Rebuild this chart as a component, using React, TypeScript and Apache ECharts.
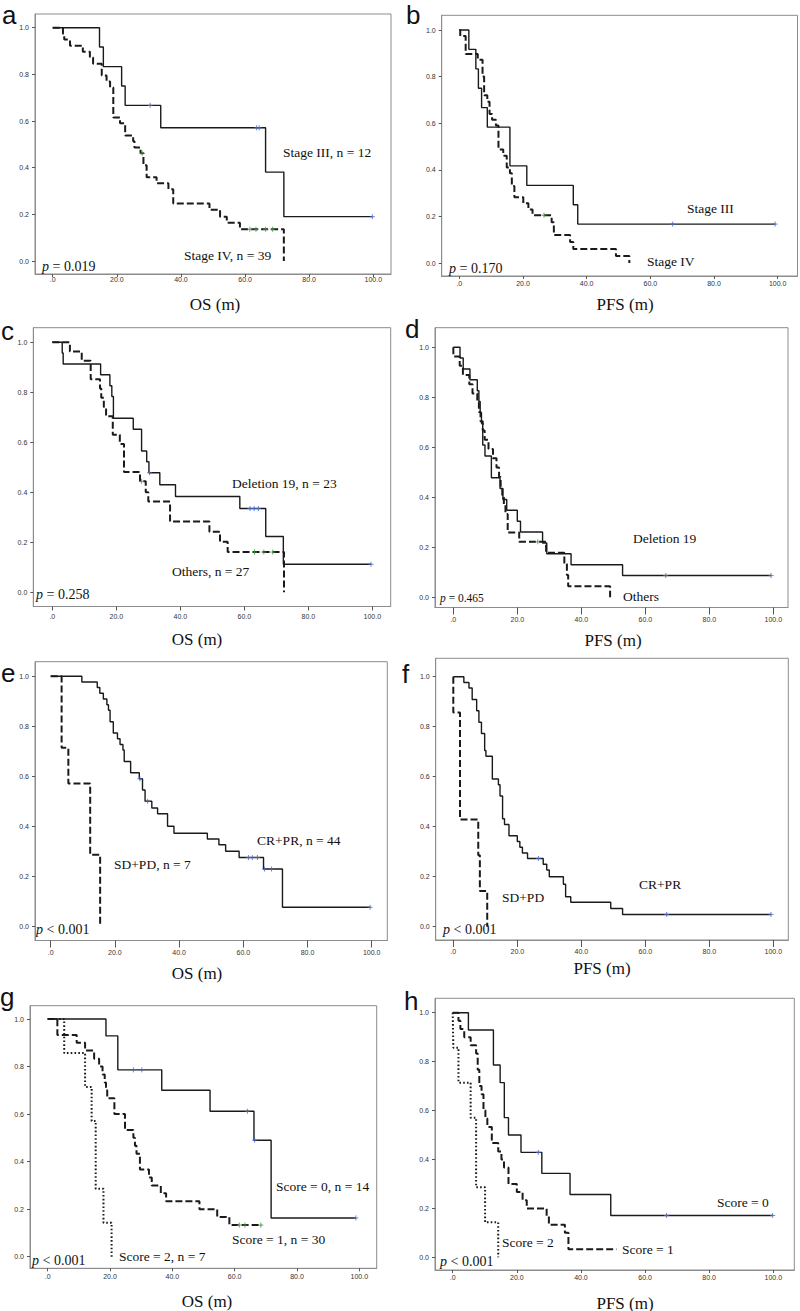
import React, { useEffect, useRef } from "react";
import * as echarts from "echarts";

// ---------- DATA (time in months, survival probability) ----------
// Panel a: OS by stage
const aTimeStageIII = [0, 14.6, 15.8, 21.5, 22.6, 33.7, 66.4, 72.1, 99.7];
const aSurvStageIII = [1, 0.917, 0.833, 0.75, 0.667, 0.571, 0.381, 0.19, 0.19];
const aCensStageIII = [30.4, 63.6, 64.4, 99.7];
const aTimeStageIV = [0, 3.2, 3.6, 5.4, 9.4, 11.6, 12.6, 15.3, 16.8, 17.9, 18.9, 21.0, 22.6, 25.1, 25.5, 27.4, 28.3, 29.3, 32.4, 36.1, 37.6, 48.9, 52.2, 54.3, 58.4, 72.1];
const aSurvStageIV = [1, 0.974, 0.949, 0.923, 0.897, 0.872, 0.846, 0.795, 0.769, 0.744, 0.615, 0.59, 0.538, 0.513, 0.487, 0.462, 0.41, 0.359, 0.333, 0.308, 0.246, 0.22, 0.19, 0.164, 0.136, 0];
const aCensStageIV = [27.9, 61.5, 63.4, 66.4, 68.6];

// Panel b: PFS by stage
const bTimeStageIII = [0, 3.0, 5.2, 6.0, 7.0, 8.8, 15.9, 21.2, 35.8, 37.2, 99.2];
const bSurvStageIII = [1, 0.917, 0.833, 0.75, 0.667, 0.583, 0.417, 0.333, 0.25, 0.167, 0.167];
const bCensStageIII = [67.0, 99.2];
const bTimeStageIV = [0, 0.3, 2.0, 5.8, 7.3, 7.8, 8.8, 9.5, 10.3, 11.5, 12.3, 13.8, 14.9, 15.9, 16.5, 17.3, 20.1, 21.7, 23.0, 29.0, 29.7, 34.8, 35.8, 49.2, 53.4];
const bSurvStageIV = [1, 0.974, 0.897, 0.872, 0.8, 0.72, 0.692, 0.64, 0.615, 0.59, 0.487, 0.46, 0.41, 0.385, 0.33, 0.282, 0.256, 0.23, 0.205, 0.175, 0.12, 0.09, 0.06, 0.03, 0];
const bCensStageIV = [26.6];

// Panel c: OS by EGFR mutation
const cTimeDel19 = [0, 3.1, 3.4, 15.1, 18.0, 18.6, 19.1, 25.3, 27.9, 29.5, 30.2, 33.6, 38.5, 58.6, 66.7, 72.2, 99.6];
const cSurvDel19 = [1, 0.957, 0.913, 0.87, 0.826, 0.783, 0.696, 0.652, 0.565, 0.522, 0.478, 0.43, 0.383, 0.335, 0.223, 0.112, 0.112];
const cCensDel19 = [30.4, 61.8, 63.1, 64.4, 99.6];
const cTimeOthers = [0, 5.5, 9.2, 12.0, 14.9, 15.3, 16.1, 16.8, 18.9, 21.1, 22.4, 27.4, 29.2, 30.0, 36.8, 49.1, 52.4, 54.8, 72.4];
const cSurvOthers = [1, 0.963, 0.926, 0.852, 0.815, 0.778, 0.741, 0.704, 0.63, 0.593, 0.481, 0.444, 0.4, 0.363, 0.283, 0.242, 0.202, 0.161, 0];
const cCensOthers = [27.9, 63.2, 66.1, 68.9];

// Panel d: PFS by EGFR mutation
const dTimeDel19 = [0, 2.1, 3.1, 5.2, 7.5, 8.0, 8.4, 8.8, 9.2, 9.9, 11.9, 14.6, 15.5, 16.7, 20.0, 21.0, 27.9, 29.2, 36.8, 52.9, 99.3];
const dSurvDel19 = [1, 0.957, 0.913, 0.87, 0.826, 0.783, 0.739, 0.696, 0.609, 0.565, 0.478, 0.435, 0.391, 0.348, 0.304, 0.261, 0.217, 0.174, 0.13, 0.087, 0.087];
const dCensDel19 = [66.4, 99.3];
const dTimeOthers = [0, 0.05, 2.0, 3.0, 5.0, 6.0, 7.5, 8.0, 8.5, 9.2, 9.8, 11.0, 12.4, 13.5, 14.3, 14.8, 15.3, 15.8, 16.3, 17.0, 20.6, 29.0, 34.7, 35.5, 35.9, 49.0];
const dSurvOthers = [1, 0.963, 0.926, 0.889, 0.852, 0.815, 0.778, 0.741, 0.704, 0.667, 0.63, 0.593, 0.556, 0.519, 0.481, 0.444, 0.407, 0.37, 0.333, 0.259, 0.222, 0.178, 0.133, 0.089, 0.044, 0];
const dCensOthers = [26.4];

// Panel e: OS by response
const eTimeCRPR = [0, 9.7, 14.5, 15.3, 16.4, 17.5, 18.0, 18.5, 19.5, 20.8, 21.6, 22.5, 22.9, 24.9, 27.6, 28.6, 29.4, 31.5, 33.3, 36.4, 38.4, 48.8, 52.4, 54.5, 58.7, 66.3, 72.2, 99.5];
const eSurvCRPR = [1, 0.977, 0.955, 0.932, 0.909, 0.886, 0.864, 0.818, 0.773, 0.75, 0.727, 0.705, 0.659, 0.614, 0.59, 0.545, 0.5, 0.473, 0.45, 0.4, 0.372, 0.349, 0.326, 0.3, 0.275, 0.229, 0.076, 0.076];
const eCensCRPR = [27.8, 30.2, 61.6, 62.8, 64.4, 66.6, 68.8, 99.5];
const eTimeSDPD = [0, 3.4, 5.5, 12.3, 15.4];
const eSurvSDPD = [1, 0.714, 0.571, 0.286, 0];

// Panel f: PFS by response
const fTimeCRPR = [0, 3.3, 4.9, 5.9, 7.3, 8.0, 8.8, 9.8, 10.2, 12.2, 14.1, 14.6, 15.4, 16.0, 17.4, 20.0, 20.8, 21.6, 23.2, 28.1, 29.2, 30.0, 34.4, 35.1, 36.7, 49.2, 52.9, 99.3];
const fSurvCRPR = [1, 0.977, 0.955, 0.909, 0.864, 0.818, 0.773, 0.705, 0.682, 0.591, 0.568, 0.523, 0.432, 0.409, 0.364, 0.341, 0.318, 0.295, 0.273, 0.25, 0.227, 0.2, 0.17, 0.12, 0.098, 0.073, 0.049, 0.049];
const fCensCRPR = [26.6, 66.7, 99.3];
const fTimeSDPD = [0, 0, 2.1, 7.8, 8.3, 10.6];
const fSurvSDPD = [1, 0.857, 0.429, 0.286, 0.143, 0];

// Panel g: OS by score
const gTimeScore0 = [0, 18.7, 22.5, 36.6, 52.1, 66.2, 71.7, 98.9];
const gSurvScore0 = [1, 0.929, 0.786, 0.7, 0.612, 0.49, 0.163, 0.163];
const gCensScore0 = [27.5, 30.2, 64.1, 66.4, 98.9];
const gTimeScore1 = [0, 3.1, 9.3, 12.0, 14.9, 16.5, 17.6, 18.3, 18.7, 19.1, 21.4, 24.8, 27.5, 28.0, 28.5, 29.6, 32.5, 33.4, 36.3, 38.0, 48.7, 54.4, 58.3, 68.7];
const gSurvScore1 = [1, 0.933, 0.9, 0.867, 0.833, 0.8, 0.767, 0.733, 0.7, 0.667, 0.6, 0.533, 0.5, 0.467, 0.433, 0.367, 0.333, 0.3, 0.267, 0.233, 0.2, 0.167, 0.133, 0.133];
const gCensScore1 = [61.5, 63.3, 68.4];
const gTimeScore2 = [0, 5.3, 12.0, 14.1, 15.4, 17.9, 20.5];
const gSurvScore2 = [1, 0.857, 0.714, 0.571, 0.286, 0.143, 0];

// Panel h: PFS by score
const hTimeScore0 = [0, 4.9, 12.7, 14.8, 16.1, 17.4, 21.3, 27.8, 36.6, 49.3, 99.8];
const hSurvScore0 = [1, 0.929, 0.786, 0.714, 0.571, 0.5, 0.429, 0.343, 0.257, 0.171, 0.171];
const hCensScore0 = [26.7, 66.7, 99.8];
const hTimeScore1 = [0, 1.8, 2.4, 3.6, 5.6, 7.3, 7.8, 8.3, 9.0, 9.6, 10.2, 10.8, 12.2, 14.2, 15.2, 16.0, 17.4, 20.0, 21.8, 23.1, 29.3, 30.0, 35.0, 36.1, 51.1];
const hSurvScore1 = [1, 0.967, 0.933, 0.9, 0.867, 0.833, 0.767, 0.7, 0.667, 0.6, 0.567, 0.533, 0.467, 0.433, 0.4, 0.367, 0.3, 0.267, 0.233, 0.2, 0.167, 0.133, 0.1, 0.033, 0.033];
const hTimeScore2 = [0, 0.2, 1.8, 5.6, 7.3, 10.1, 14.2];
const hSurvScore2 = [1, 0.857, 0.714, 0.571, 0.286, 0.143, 0];

// Tick labels
const xTicks = [0, 20, 40, 60, 80, 100];
const yTicks = [0, 0.2, 0.4, 0.6, 0.8, 1.0];

// ---------- LAYOUT ----------
const SERIF = '"Liberation Serif", "Times New Roman", serif';
const SANS = '"Liberation Sans", Arial, sans-serif';
const LETTER = '"Liberation Sans", Arial, sans-serif';

type Curve = { t: number[]; s: number[]; c?: number[]; kind: "solid" | "dashed" | "dotted" };
type Panel = {
  letter: string;
  letterPos: [number, number];
  box: [number, number, number, number]; // L T R B
  px: [number, number, number, number]; // x(0), x(100), y(1), y(0)
  xTitle: string;
  xTitlePos: [number, number];
  xTickLen: number;
  xLabelMargin: number;
  curves: Curve[];
  labels: { text: string; x: number; y: number }[];
  p: { text: string; x: number; y: number; size: number };
};

const panels: Panel[] = [
  {
    letter: "a", letterPos: [2, 15], box: [35, 14, 391, 274], px: [52.7, 373.3, 27.7, 261],
    xTitle: "OS (m)", xTitlePos: [215, 304], xTickLen: 3, xLabelMargin: 2,
    curves: [
      { t: aTimeStageIII, s: aSurvStageIII, c: aCensStageIII, kind: "solid" },
      { t: aTimeStageIV, s: aSurvStageIV, c: aCensStageIV, kind: "dashed" },
    ],
    labels: [
      { text: "Stage III, n = 12", x: 283, y: 152 },
      { text: "Stage IV, n = 39", x: 184, y: 255 },
    ],
    p: { text: "= 0.019", x: 42, y: 266, size: 14 },
  },
  {
    letter: "b", letterPos: [406, 15], box: [441.7, 15.3, 797.5, 276], px: [459.3, 777.7, 30, 263],
    xTitle: "PFS (m)", xTitlePos: [625, 304], xTickLen: 3, xLabelMargin: 4,
    curves: [
      { t: bTimeStageIII, s: bSurvStageIII, c: bCensStageIII, kind: "solid" },
      { t: bTimeStageIV, s: bSurvStageIV, c: bCensStageIV, kind: "dashed" },
    ],
    labels: [
      { text: "Stage III", x: 687, y: 208 },
      { text: "Stage IV", x: 647, y: 261 },
    ],
    p: { text: "= 0.170", x: 449, y: 268, size: 14 },
  },
  {
    letter: "c", letterPos: [1, 331], box: [33.3, 327.7, 390.7, 606.5], px: [52.3, 372.3, 342.3, 592.3],
    xTitle: "OS (m)", xTitlePos: [197, 639], xTickLen: 4, xLabelMargin: 6,
    curves: [
      { t: cTimeDel19, s: cSurvDel19, c: cCensDel19, kind: "solid" },
      { t: cTimeOthers, s: cSurvOthers, c: cCensOthers, kind: "dashed" },
    ],
    labels: [
      { text: "Deletion 19, n = 23", x: 232, y: 483 },
      { text: "Others, n = 27", x: 172, y: 571 },
    ],
    p: { text: "= 0.258", x: 36, y: 594, size: 14 },
  },
  {
    letter: "d", letterPos: [405, 329], box: [435, 327.7, 788, 607.5], px: [453.3, 773.3, 347.3, 597.3],
    xTitle: "PFS (m)", xTitlePos: [613, 640], xTickLen: 7, xLabelMargin: 8,
    curves: [
      { t: dTimeDel19, s: dSurvDel19, c: dCensDel19, kind: "solid" },
      { t: dTimeOthers, s: dSurvOthers, c: dCensOthers, kind: "dashed" },
    ],
    labels: [
      { text: "Deletion 19", x: 633, y: 538 },
      { text: "Others", x: 623, y: 596 },
    ],
    p: { text: "= 0.465", x: 440, y: 598, size: 11.5 },
  },
  {
    letter: "e", letterPos: [1, 673], box: [35, 661.7, 387.3, 940.5], px: [50.7, 371.7, 676.3, 926.3],
    xTitle: "OS (m)", xTitlePos: [197, 973], xTickLen: 7, xLabelMargin: 8,
    curves: [
      { t: eTimeCRPR, s: eSurvCRPR, c: eCensCRPR, kind: "solid" },
      { t: eTimeSDPD, s: eSurvSDPD, kind: "dashed" },
    ],
    labels: [
      { text: "CR+PR, n = 44", x: 257, y: 840 },
      { text: "SD+PD, n = 7", x: 114, y: 864 },
    ],
    p: { text: "< 0.001", x: 36, y: 929, size: 14 },
  },
  {
    letter: "f", letterPos: [402, 674], box: [435.7, 658.3, 788.3, 940], px: [453.3, 773.3, 676.7, 926.7],
    xTitle: "PFS (m)", xTitlePos: [602, 968], xTickLen: 7, xLabelMargin: 8,
    curves: [
      { t: fTimeCRPR, s: fSurvCRPR, c: fCensCRPR, kind: "solid" },
      { t: fTimeSDPD, s: fSurvSDPD, kind: "dashed" },
    ],
    labels: [
      { text: "CR+PR", x: 639, y: 884 },
      { text: "SD+PD", x: 502, y: 897 },
    ],
    p: { text: "< 0.001", x: 443, y: 929, size: 14 },
  },
  {
    letter: "g", letterPos: [0, 997], box: [30, 1005.7, 376.7, 1268.3], px: [47.7, 359.3, 1019, 1256.7],
    xTitle: "OS (m)", xTitlePos: [207, 1301], xTickLen: 3, xLabelMargin: 5,
    curves: [
      { t: gTimeScore0, s: gSurvScore0, c: gCensScore0, kind: "solid" },
      { t: gTimeScore1, s: gSurvScore1, c: gCensScore1, kind: "dashed" },
      { t: gTimeScore2, s: gSurvScore2, kind: "dotted" },
    ],
    labels: [
      { text: "Score = 0, n = 14", x: 276, y: 1186 },
      { text: "Score = 1, n = 30", x: 232, y: 1239 },
      { text: "Score = 2, n = 7", x: 119, y: 1256 },
    ],
    p: { text: "< 0.001", x: 32, y: 1260, size: 14 },
  },
  {
    letter: "h", letterPos: [404, 1001], box: [435, 998.3, 794.3, 1270], px: [452.7, 773.3, 1012.7, 1257.3],
    xTitle: "PFS (m)", xTitlePos: [625, 1303], xTickLen: 3, xLabelMargin: 4,
    curves: [
      { t: hTimeScore0, s: hSurvScore0, c: hCensScore0, kind: "solid" },
      { t: hTimeScore1, s: hSurvScore1, kind: "dashed" },
      { t: hTimeScore2, s: hSurvScore2, kind: "dotted" },
    ],
    labels: [
      { text: "Score = 0", x: 717, y: 1202 },
      { text: "Score = 1", x: 622, y: 1249 },
      { text: "Score = 2", x: 502, y: 1242 },
    ],
    p: { text: "< 0.001", x: 440, y: 1261, size: 14 },
  },
];

const survAt = (time: number, t: number[], s: number[]) => {
  let v = s[0];
  for (let i = 0; i < t.length; i++) if (t[i] <= time) v = s[i];
  return v;
};

const PLUS = "path://M5,0L5,10M0,5L10,5";

function buildOption() {
  const grid: any[] = [];
  const xAxis: any[] = [];
  const yAxis: any[] = [];
  const series: any[] = [];
  const graphic: any[] = [];

  panels.forEach((p, i) => {
    const [L, T, R, B] = p.box;
    const [x0, x100, y1, y0] = p.px;
    const sx = (x100 - x0) / 100;
    const sy = y0 - y1;
    grid.push({
      left: L, top: T, width: R - L, height: B - T,
      show: true, borderColor: "#8c8c8c", borderWidth: 1, backgroundColor: "transparent",
    });
    xAxis.push({
      gridIndex: i, type: "value",
      min: -(x0 - L) / sx, max: 100 + (R - x100) / sx,
      axisLine: { show: true, onZero: false, lineStyle: { color: "#8c8c8c", width: 1 } },
      axisTick: { show: true, customValues: xTicks, length: p.xTickLen, lineStyle: { color: "#555" } },
      axisLabel: {
        customValues: xTicks, margin: p.xLabelMargin, fontSize: 7, color: "#333", fontFamily: SANS,
        formatter: (v: number) => (v === 0 ? ".0" : v.toFixed(1)),
      },
      splitLine: { show: false },
    });
    yAxis.push({
      gridIndex: i, type: "value",
      min: -(B - y0) / sy, max: 1 + (y1 - T) / sy,
      axisLine: { show: true, onZero: false, lineStyle: { color: "#8c8c8c", width: 1 } },
      axisTick: { show: true, customValues: yTicks, length: 3, lineStyle: { color: "#555" } },
      axisLabel: {
        customValues: yTicks, margin: 6, fontSize: 7, color: "#333", fontFamily: SANS,
        formatter: (v: number) => v.toFixed(1),
      },
      splitLine: { show: false },
    });

    p.curves.forEach((c) => {
      const type = c.kind === "solid" ? "solid" : c.kind === "dashed" ? [7, 3] : [1.6, 2.2];
      const width = c.kind === "solid" ? 1.4 : 2;
      series.push({
        type: "line", xAxisIndex: i, yAxisIndex: i, step: "end",
        showSymbol: false, symbol: "none",
        data: c.t.map((tt, k) => [tt, c.s[k]]),
        lineStyle: { color: "#1a1a1a", width, type },
        silent: true,
      });
      if (c.c && c.c.length) {
        series.push({
          type: "scatter", xAxisIndex: i, yAxisIndex: i,
          symbol: PLUS, symbolSize: 5,
          data: c.c.map((tt) => [tt, survAt(tt, c.t, c.s)]),
          itemStyle: { color: "none", borderColor: c.kind === "solid" ? "#4a68c9" : "#3a9a3a", borderWidth: 1 },
          silent: true, z: 5,
        });
      }
    });

    graphic.push({
      type: "text", x: p.letterPos[0], y: p.letterPos[1],
      style: { text: p.letter, fontSize: 26, fontFamily: LETTER, fill: "#111", verticalAlign: "middle", align: "left" },
    });
    graphic.push({
      type: "text", x: p.xTitlePos[0], y: p.xTitlePos[1],
      style: { text: p.xTitle, fontSize: 17, fontFamily: SERIF, fill: "#111", verticalAlign: "middle", align: "center" },
    });
    p.labels.forEach((l) => {
      graphic.push({
        type: "text", x: l.x, y: l.y,
        style: { text: l.text, fontSize: 13.5, fontFamily: SERIF, fill: "#111", verticalAlign: "middle", align: "left" },
      });
    });
    graphic.push({
      type: "text", x: p.p.x, y: p.p.y,
      style: {
        text: `{i|p} ${p.p.text}`, fontSize: p.p.size, fontFamily: SERIF, fill: "#111",
        verticalAlign: "middle", align: "left",
        rich: { i: { fontStyle: "italic", fontFamily: SERIF, fontSize: p.p.size, fill: "#111" } },
      },
    });
  });

  return { animation: false, grid, xAxis, yAxis, series, graphic };
}

export default function App() {
  const ref = useRef<HTMLDivElement>(null);
  useEffect(() => {
    if (!ref.current) return;
    const chart = echarts.init(ref.current, undefined, { renderer: "svg" });
    chart.setOption(buildOption() as any);
    return () => chart.dispose();
  }, []);
  return (
    <div
      ref={ref}
      style={{ position: "absolute", left: 0, top: 0, width: 800, height: 1311, background: "#fff" }}
    />
  );
}
